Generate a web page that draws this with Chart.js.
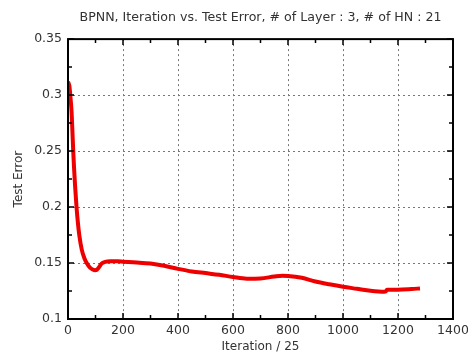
<!DOCTYPE html>
<html>
<head>
  <title>BPNN Test Error</title>
  <script src="https://cdn.jsdelivr.net/npm/chart.js@4.4.0/dist/chart.umd.min.js"></script>
  <style>
    html, body {
      margin: 0;
      padding: 0;
      background: #fff;
    }
    .wrap {
      width: 468px;
      height: 358px;
    }
  </style>
</head>
<body>
  <div class="wrap">
    <canvas id="chart" width="468" height="358"></canvas>
  </div>

  <script>
    const iterations = [0, 5, 10, 13, 16, 19, 22, 26, 31, 36, 41, 50, 60, 68, 80, 90, 98, 105, 112,
      122, 135, 153, 180, 200, 250, 300, 350, 400, 450, 500, 550, 600, 650, 700, 750, 780, 800, 850,
      900, 950, 1000, 1050, 1100, 1150, 1155, 1160, 1200, 1250, 1280];
    const testError = [0.312, 0.308, 0.295, 0.285, 0.268, 0.250, 0.235, 0.218, 0.200, 0.186, 0.175,
      0.162, 0.154, 0.150, 0.1458, 0.1442, 0.1436, 0.1440, 0.1460, 0.1495, 0.1510, 0.1516, 0.1515,
      0.1512, 0.1505, 0.1495, 0.1475, 0.1448, 0.1425, 0.1410, 0.1395, 0.1375, 0.1360, 0.1362,
      0.1380, 0.1387, 0.1385, 0.1368, 0.1335, 0.1310, 0.1288, 0.1270, 0.1252, 0.1243, 0.1245, 0.1262,
      0.1262, 0.1268, 0.1273];

    const xMajor = [0, 200, 400, 600, 800, 1000, 1200, 1400];
    const xMinor = [100, 300, 500, 700, 900, 1100, 1300];
    const yMajor = [0.1, 0.15, 0.2, 0.25, 0.3, 0.35];
    const yMinor = [0.125, 0.175, 0.225, 0.275, 0.325];

    const textColor = '#333';
    const fontFamily = 'Verdana, "DejaVu Sans", sans-serif';

    // frame + inward tick marks, like the original plot
    const framePlugin = {
      id: 'frame',
      afterDraw(chart) {
        const { ctx, chartArea: a, scales } = chart;
        const x = scales.x, y = scales.y;
        ctx.save();
        ctx.strokeStyle = '#000';
        ctx.lineWidth = 1.5;
        ctx.beginPath();
        xMajor.forEach(v => {
          const px = x.getPixelForValue(v);
          ctx.moveTo(px, a.bottom); ctx.lineTo(px, a.bottom - 6);
          ctx.moveTo(px, a.top); ctx.lineTo(px, a.top + 6);
        });
        xMinor.forEach(v => {
          const px = x.getPixelForValue(v);
          ctx.moveTo(px, a.bottom); ctx.lineTo(px, a.bottom - 4);
          ctx.moveTo(px, a.top); ctx.lineTo(px, a.top + 4);
        });
        yMajor.forEach(v => {
          const py = y.getPixelForValue(v);
          ctx.moveTo(a.left, py); ctx.lineTo(a.left + 6, py);
          ctx.moveTo(a.right, py); ctx.lineTo(a.right - 6, py);
        });
        yMinor.forEach(v => {
          const py = y.getPixelForValue(v);
          ctx.moveTo(a.left, py); ctx.lineTo(a.left + 4, py);
          ctx.moveTo(a.right, py); ctx.lineTo(a.right - 4, py);
        });
        ctx.stroke();
        ctx.lineWidth = 2;
        ctx.strokeRect(a.left, a.top, a.right - a.left, a.bottom - a.top);
        ctx.restore();
      }
    };

    function gridColor(c) {
      const s = c.scale;
      if (c.tick && (c.tick.value === s.min || c.tick.value === s.max)) return 'rgba(0,0,0,0)';
      return '#777';
    }

    new Chart(document.getElementById('chart'), {
      type: 'line',
      data: {
        datasets: [{
          data: iterations.map((it, i) => ({ x: it, y: testError[i] })),
          borderColor: '#ee0000',
          borderWidth: 4,
          pointRadius: 0,
          fill: false,
          cubicInterpolationMode: 'monotone'
        }]
      },
      options: {
        responsive: false,
        animation: false,
        layout: { padding: { left: 0, right: 0, top: 0, bottom: 0 } },
        plugins: {
          legend: { display: false },
          tooltip: { enabled: false },
          title: {
            display: true,
            fullSize: false,
            text: 'BPNN, Iteration vs. Test Error, # of Layer : 3, # of HN : 21',
            color: textColor,
            font: { family: fontFamily, size: 12.6, weight: 'normal' },
            padding: { top: 10, bottom: 14 }
          }
        },
        scales: {
          x: {
            type: 'linear',
            min: 0,
            max: 1400,
            ticks: {
              stepSize: 200,
              color: textColor,
              padding: 4,
              font: { family: fontFamily, size: 12.5 },
              callback: v => String(v)
            },
            grid: { color: gridColor, drawTicks: false, lineWidth: 1 },
            border: { display: false, dash: [2, 3] },
            title: {
              display: true,
              text: 'Iteration / 25',
              color: textColor,
              font: { family: fontFamily, size: 12 },
              padding: { top: 2, bottom: 4 }
            },
            afterFit(scale) {
              scale.height = 39;
              scale.paddingRight = 15;
            }
          },
          y: {
            min: 0.1,
            max: 0.35,
            ticks: {
              stepSize: 0.05,
              color: textColor,
              padding: 6,
              font: { family: fontFamily, size: 12.5 },
              callback: v => String(Math.round(v * 100) / 100)
            },
            grid: { color: gridColor, drawTicks: false, lineWidth: 1 },
            border: { display: false, dash: [2, 3] },
            title: {
              display: true,
              text: 'Test Error',
              color: textColor,
              font: { family: fontFamily, size: 12 },
              padding: { top: 12, bottom: 0 }
            },
            afterFit(scale) { scale.width = 68; }
          }
        }
      },
      plugins: [framePlugin]
    });
  </script>
</body>
</html>
